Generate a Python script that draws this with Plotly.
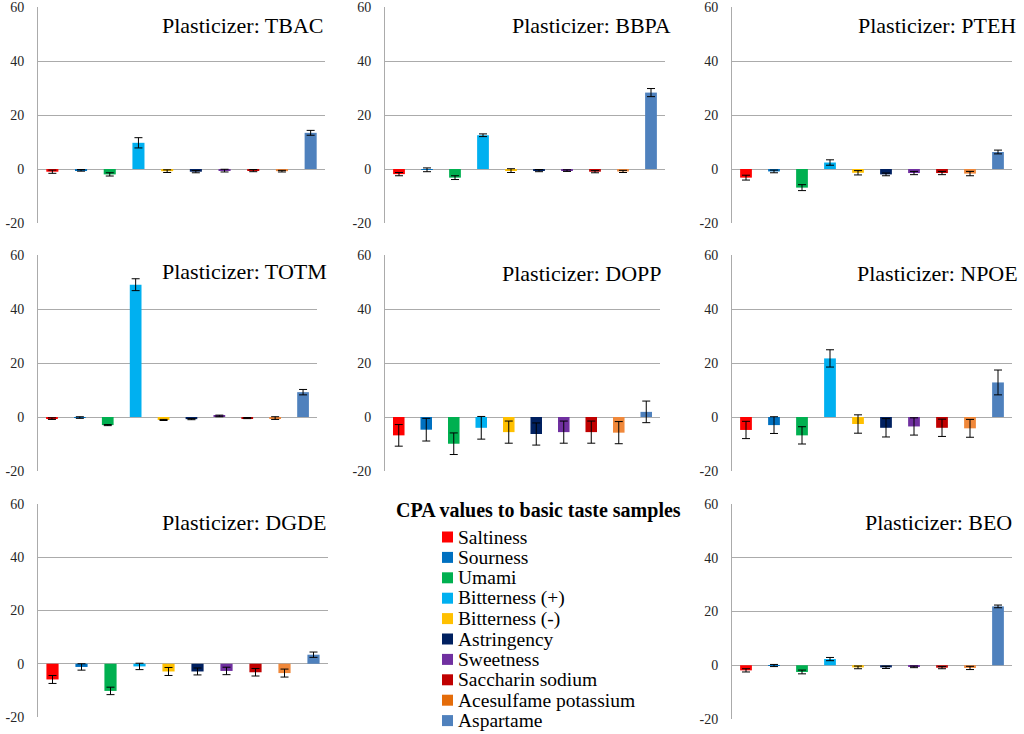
import plotly.graph_objects as go

# ---------------- data ----------------
tastes = ["Saltiness", "Sourness", "Umami", "Bitterness (+)", "Bitterness (-)",
          "Astringency", "Sweetness", "Saccharin sodium", "Acesulfame potassium", "Aspartame"]
colors = ["#FF0000", "#0070C0", "#00B050", "#00B0F0", "#FFC000",
          "#002060", "#7030A0", "#C00000", "#F0883A", "#4F81BD"]
legend_colors = ["#FF0000", "#0070C0", "#00B050", "#00B0F0", "#FFC000",
                 "#002060", "#7030A0", "#C00000", "#E46C0A", "#4F81BD"]

plasticizers = ["TBAC", "BBPA", "PTEH", "TOTM", "DOPP", "NPOE", "DGDE", "BEO"]

tbac = [-1.0, -0.5, -2.0, 9.7, -0.8, -1.0, -0.6, -0.6, -0.8, 13.4]
tbac_err = [0.6, 0.3, 0.6, 1.9, 0.5, 0.4, 0.5, 0.4, 0.3, 0.9]

bbpa = [-1.9, -0.3, -3.2, 12.5, -0.6, -0.6, -0.6, -1.0, -0.9, 28.3]
bbpa_err = [0.6, 0.7, 0.7, 0.5, 0.7, 0.4, 0.3, 0.4, 0.4, 1.5]

pteh = [-3.2, -0.9, -6.9, 2.4, -1.4, -2.0, -1.5, -1.5, -1.7, 6.3]
pteh_err = [0.9, 0.5, 1.1, 1.0, 0.8, 0.5, 0.6, 0.6, 0.8, 0.7]

totm = [-0.6, -0.2, -3.0, 49.0, -1.1, -0.8, 0.4, -0.4, -0.4, 9.2]
totm_err = [0.3, 0.3, 0.2, 2.2, 0.2, 0.2, 0.3, 0.2, 0.5, 1.0]

dopp = [-6.8, -4.7, -9.9, -4.0, -5.6, -6.3, -5.6, -5.6, -5.8, 1.9]
dopp_err = [4.0, 4.2, 4.0, 4.2, 4.1, 4.1, 4.1, 4.1, 4.1, 4.0]

npoe = [-4.8, -3.0, -6.8, 21.7, -2.6, -4.0, -3.5, -4.0, -4.2, 12.8]
npoe_err = [3.2, 3.1, 3.2, 3.2, 3.4, 3.4, 3.2, 3.2, 3.3, 4.6]

dgde = [-5.9, -1.2, -10.2, -1.0, -2.9, -2.9, -2.7, -3.2, -3.5, 3.4]
dgde_err = [1.5, 1.2, 1.4, 1.2, 1.5, 1.3, 1.4, 1.4, 1.5, 1.0]

beo = [-1.9, -0.1, -2.5, 2.3, -0.8, -0.8, -0.6, -0.9, -1.0, 21.9]
beo_err = [0.6, 0.4, 0.7, 0.6, 0.5, 0.4, 0.3, 0.4, 0.6, 0.5]

values = [tbac, bbpa, pteh, totm, dopp, npoe, dgde, beo]
errors = [tbac_err, bbpa_err, pteh_err, totm_err, dopp_err, npoe_err, dgde_err, beo_err]

y_tickvals = [-20, 0, 20, 40, 60]
y_ticktext = ["-20", "0", "20", "40", "60"]
legend_title = "CPA values to basic taste samples"

# ---------------- layout constants (pixels) ----------------
W, H = 1024, 734
# panel boxes: left, top, right, bottom
boxes = [(38, 7, 325, 223), (385, 7, 665, 223), (732, 7, 1012, 223),
         (38, 255, 317, 471), (385, 255, 660, 471), (732, 255, 1012, 471),
         (38, 504, 328, 717), (732, 504, 1012, 719)]
title_pos = [(326, 26), (673, 26), (1018, 26),
             (329, 272), (664, 273), (1020, 273),
             (328, 522), (1014, 522)]

SERIF = "Liberation Serif, Times New Roman, serif"

def px(x):
    return x / W

def py(y):
    return 1 - y / H

fig = go.Figure()
annotations = []
shapes = []

for i, name in enumerate(plasticizers):
    ax = "" if i == 0 else str(i + 1)
    fig.add_trace(go.Bar(
        x=tastes, y=values[i],
        marker=dict(color=colors, line=dict(width=0)),
        error_y=dict(type="data", array=errors[i], visible=True,
                     color="#000000", thickness=1, width=4),
        width=0.42,
        name=name,
        showlegend=False,
        xaxis="x" + ax, yaxis="y" + ax,
    ))
    l, t, r, b = boxes[i]
    fig.layout["xaxis" + ax] = dict(
        domain=[px(l), px(r)], anchor="y" + ax, type="category",
        range=[-0.5, 9.5], showticklabels=False, showgrid=False,
        showline=False, zeroline=False, ticks="", fixedrange=True,
        automargin=False,
    )
    fig.layout["yaxis" + ax] = dict(
        domain=[py(b), py(t)], anchor="x" + ax, range=[-20, 60],
        tickvals=y_tickvals, ticktext=y_ticktext,
        showgrid=True, gridcolor="#ABABAB", gridwidth=1,
        showline=True, linecolor="#ABABAB", linewidth=1,
        zeroline=False, ticks="", ticklabelstandoff=10,
        ticklabeloverflow="allow",
        tickfont=dict(family=SERIF, size=14, color="#262626"),
        fixedrange=True, automargin=False,
    )
    tx, ty = title_pos[i]
    annotations.append(dict(
        x=px(tx), y=py(ty), xref="paper", yref="paper",
        xanchor="right", yanchor="middle", showarrow=False,
        text="Plasticizer: " + name,
        font=dict(family=SERIF, size=22, color="#000000"),
    ))

# manual legend (title + entries)
annotations.append(dict(
    x=px(538), y=py(510), xref="paper", yref="paper",
    xanchor="center", yanchor="middle", showarrow=False,
    text="<b>" + legend_title + "</b>",
    font=dict(family=SERIF, size=20, color="#000000"),
))
for k, taste in enumerate(tastes):
    cy = 537 + k * 20.4
    annotations.append(dict(
        x=px(456), y=py(cy), xref="paper", yref="paper",
        xanchor="left", yanchor="middle", showarrow=False,
        text=taste,
        font=dict(family=SERIF, size=19.5, color="#000000"),
    ))
    shapes.append(dict(
        type="rect", xref="paper", yref="paper",
        x0=px(442), x1=px(453), y0=py(cy + 5.5), y1=py(cy - 5.5),
        fillcolor=legend_colors[k], line=dict(width=0),
    ))

fig.update_layout(
    width=W, height=H,
    margin=dict(l=0, r=0, t=0, b=0, autoexpand=False),
    paper_bgcolor="#FFFFFF", plot_bgcolor="#FFFFFF",
    barmode="group",
    annotations=annotations,
    shapes=shapes,
    font=dict(family=SERIF),
)

fig.write_html(
    "out.html",
    config={"displayModeBar": False},
    post_script="document.body.style.margin='0px';document.body.style.overflow='hidden';",
)
